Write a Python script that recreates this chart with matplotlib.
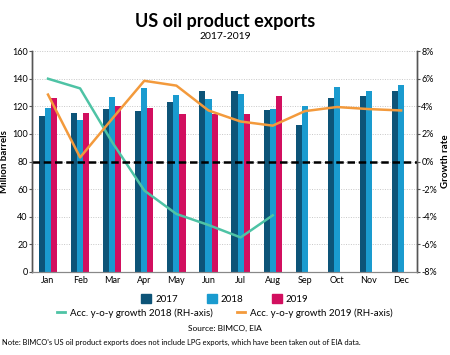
import numpy as np
import matplotlib
matplotlib.use('Agg')
import matplotlib.pyplot as plt
from matplotlib.patches import Patch
from matplotlib.lines import Line2D

plt.rcParams['font.family'] = ['Lato', 'DejaVu Sans']

months = ['Jan', 'Feb', 'Mar', 'Apr', 'May', 'Jun', 'Jul', 'Aug', 'Sep', 'Oct', 'Nov', 'Dec']
exp_2017 = [113, 115, 118, 116.4, 123, 131, 131.4, 117, 106.7, 126, 127.5, 131.4]
exp_2018 = [118.5, 110, 127, 133, 128.5, 125, 129, 118, 120, 134, 131, 135.8]
exp_2019 = [126, 115.4, 120.5, 118.8, 114.4, 114.7, 114.7, 127.8]
growth_2018 = [6.0, 5.3, 1.4, -2.1, -3.8, -4.6, -5.5, -3.9]
growth_2019 = [4.85, 0.3, 3.1, 5.85, 5.5, 3.7, 2.9, 2.6, 3.65, 3.95, 3.8, 3.7]

c17 = '#0d5478'
c18 = '#1a9bcf'
c19 = '#d20f5f'
c_g18 = '#4ec3a5'
c_g19 = '#f39a3c'

fig = plt.figure(figsize=(4.5, 3.55), dpi=100)
ax = fig.add_axes([0.071, 0.234, 0.856, 0.622])
ax2 = ax.twinx()

x = np.arange(len(months))
w = 0.19
ax.bar(x - w, exp_2017, w, color=c17, zorder=2)
ax.bar(x, exp_2018, w, color=c18, zorder=2)
ax.bar(np.arange(len(exp_2019)) + w, exp_2019, w, color=c19, zorder=2)

ax.set_ylim(0, 160)
ax.set_yticks(range(0, 161, 20))
ax.set_xlim(-0.5, 11.5)
ax.set_xticks(x)
ax.set_xticklabels(months, fontsize=6.5)
ax.tick_params(axis='x', length=0, pad=3)
ax.tick_params(axis='y', labelsize=6.5, length=2, pad=1, color='#555555')
ax.yaxis.grid(True, linestyle=(0, (1, 1.5)), color='#c8c8c8', linewidth=0.7)
ax.set_axisbelow(True)
ax.set_ylabel('Million barrels', fontsize=7, fontweight='bold', labelpad=2)

ax2.plot(np.arange(len(growth_2018)), growth_2018, color=c_g18, lw=1.8)
ax2.plot(x, growth_2019, color=c_g19, lw=1.8)
ax2.axhline(0, color='black', lw=1.8, ls=(0, (3, 1.5)))
ax2.set_ylim(-8, 8)
ax2.set_yticks(range(-8, 9, 2))
ax2.set_yticklabels(['%d%%' % v for v in range(-8, 9, 2)])
ax2.tick_params(axis='y', labelsize=6.5, length=2, pad=1, color='#555555')
ax2.set_ylabel('Growth rate', fontsize=7, fontweight='bold', labelpad=3)

for a in (ax, ax2):
    a.spines['top'].set_visible(False)
    a.spines['left'].set_color('#555555')
    a.spines['right'].set_color('#555555')
    a.spines['bottom'].set_color('#888888')
    a.spines['left'].set_linewidth(1.0)
    a.spines['right'].set_linewidth(1.0)

fig.text(0.5, 0.94, 'US oil product exports', ha='center', va='center', fontsize=13, fontweight='bold')
fig.text(0.5, 0.898, '2017-2019', ha='center', va='center', fontsize=7.5)

h1 = [Patch(color=c17, label='2017'), Patch(color=c18, label='2018'), Patch(color=c19, label='2019')]
fig.legend(handles=h1, loc='center', bbox_to_anchor=(0.5, 0.158), ncol=3, frameon=False,
           fontsize=7, handlelength=1.0, handleheight=1.0, columnspacing=3.0, handletextpad=0.4)
h2 = [Line2D([], [], color=c_g18, lw=2, label='Acc. y-o-y growth 2018 (RH-axis)'),
      Line2D([], [], color=c_g19, lw=2, label='Acc. y-o-y growth 2019 (RH-axis)')]
fig.legend(handles=h2, loc='center', bbox_to_anchor=(0.5, 0.118), ncol=2, frameon=False,
           fontsize=7, handlelength=0.8, columnspacing=2.5, handletextpad=0.5)

fig.text(0.5, 0.076, 'Source: BIMCO, EIA', ha='center', va='center', fontsize=6)
fig.text(0.004, 0.035, "Note: BIMCO's US oil product exports does not include LPG exports, which have been taken out of EIA data.",
         ha='left', va='center', fontsize=5.4)

plt.savefig('out.png', dpi=100)
